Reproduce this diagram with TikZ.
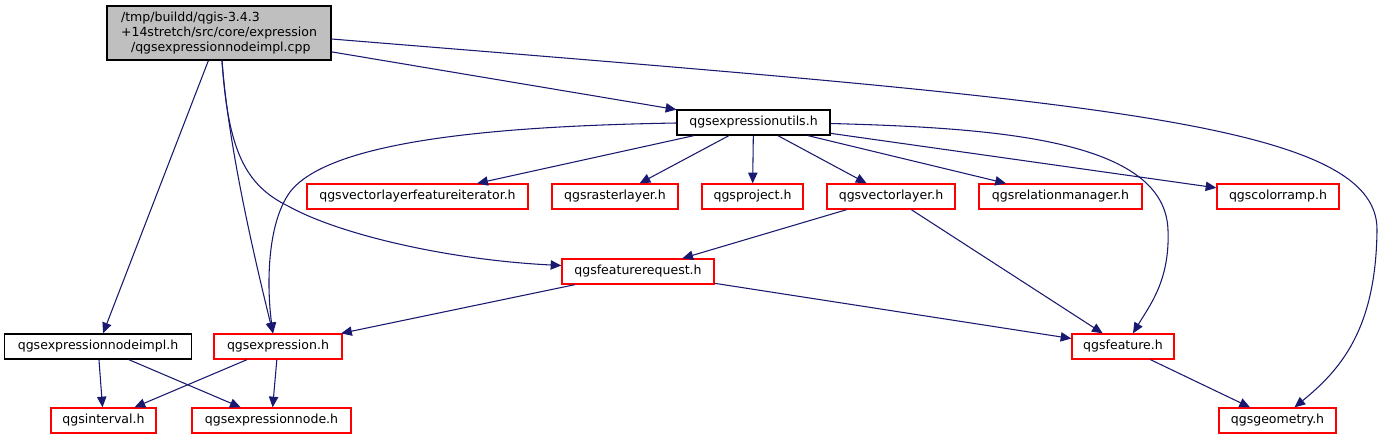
\documentclass[tikz,border=0pt]{standalone}
\usepackage{fontspec}
\setmainfont{DejaVu Sans}
\usetikzlibrary{arrows.meta,calc}
\definecolor{edgeblue}{HTML}{191970}
\definecolor{rootgray}{HTML}{BFBFBF}
\definecolor{boxred}{HTML}{FF0000}
\begin{document}
\begin{tikzpicture}[x=0.75pt,y=-0.75pt,
  every node/.style={font=\fontsize{9.4pt}{11.25pt}\selectfont, text=black},
  box/.style={draw, rectangle, inner sep=0pt, line width=1pt, minimum height=25*0.75pt},
  redbox/.style={box, draw=boxred},
  blackbox/.style={box, draw=black},
  dep/.style={draw=edgeblue, line width=0.8pt, -{Triangle[length=8pt,width=7pt]}}]
\useasboundingbox (0,0) rectangle (1382,440);

% nodes
\node[blackbox, fill=rootgray, minimum width=224*0.75pt, minimum height=54*0.75pt, align=left] (root) at (219,33)
  {/tmp/buildd/qgis-3.4.3\\+14stretch/src/core/expression\\\hspace*{7.5pt}/qgsexpressionnodeimpl.cpp};
\node[blackbox, minimum width=153*0.75pt] (utils) at (753.5,122.5) {qgsexpressionutils.h};
\node[redbox, minimum width=221*0.75pt] (vlfi) at (417.5,196.5) {qgsvectorlayerfeatureiterator.h};
\node[redbox, minimum width=126*0.75pt] (raster) at (615,196.5) {qgsrasterlayer.h};
\node[redbox, minimum width=101*0.75pt] (project) at (752.5,196.5) {qgsproject.h};
\node[redbox, minimum width=128*0.75pt] (vlayer) at (891,196.5) {qgsvectorlayer.h};
\node[redbox, minimum width=163*0.75pt] (relmgr) at (1060.5,196.5) {qgsrelationmanager.h};
\node[redbox, minimum width=122*0.75pt] (colorramp) at (1278,196.5) {qgscolorramp.h};
\node[redbox, minimum width=152*0.75pt] (featreq) at (638,271.5) {qgsfeaturerequest.h};
\node[blackbox, minimum width=187*0.75pt] (nodeimpl) at (98,346.5) {qgsexpressionnodeimpl.h};
\node[redbox, minimum width=128*0.75pt] (expression) at (278,346.5) {qgsexpression.h};
\node[redbox, minimum width=102*0.75pt] (feature) at (1123,346.5) {qgsfeature.h};
\node[redbox, minimum width=105*0.75pt] (interval) at (103.5,420.5) {qgsinterval.h};
\node[redbox, minimum width=159*0.75pt] (exprnode) at (271.5,420.5) {qgsexpressionnode.h};
\node[redbox, minimum width=117*0.75pt] (geometry) at (1277.5,420.5) {qgsgeometry.h};

% edges from root
\draw[dep] (root) -- (utils);
\draw[dep] (root) -- (nodeimpl);
\draw[dep] ($(root.east)+(0,6)$) .. controls (1080,100) and (1378,120) .. (1377,230)
  .. controls (1376,330) and (1340,370) .. ($(geometry.north)+(17,0)$);
\draw[dep] ($(root.south)+(3,0)$) .. controls (228,140) and (250,240) .. ($(expression.north)+(-5,0)$);
\draw[dep] ($(root.south)+(3,0)$) .. controls (228,150) and (245,185) .. (288,206)
  .. controls (340,235) and (450,260) .. ($(featreq.west)+(0,-6)$);

% edges from utils
\draw[dep] ($(utils.west)+(0,0.5)$) .. controls (500,126) and (330,140) .. (290,192)
  .. controls (266,225) and (267,290) .. ($(expression.north)+(-5,0)$);
\draw[dep] (utils) -- (vlfi);
\draw[dep] (utils) -- (raster);
\draw[dep] (utils) -- (project);
\draw[dep] (utils) -- (vlayer);
\draw[dep] (utils) -- (relmgr);
\draw[dep] (utils) -- (colorramp);
\draw[dep] ($(utils.east)+(0,1)$) .. controls (1000,128) and (1165,140) .. (1168,230)
  .. controls (1170,280) and (1150,305) .. ($(feature.north)+(10,0)$);

% other edges
\draw[dep] (vlayer) -- (featreq);
\draw[dep] (vlayer) -- (feature);
\draw[dep] (featreq) -- (expression);
\draw[dep] (featreq) -- (feature);
\draw[dep] (nodeimpl) -- (interval);
\draw[dep] (nodeimpl) -- (exprnode);
\draw[dep] (expression) -- (interval);
\draw[dep] (expression) -- (exprnode);
\draw[dep] (feature) -- (geometry);
\end{tikzpicture}
\end{document}
